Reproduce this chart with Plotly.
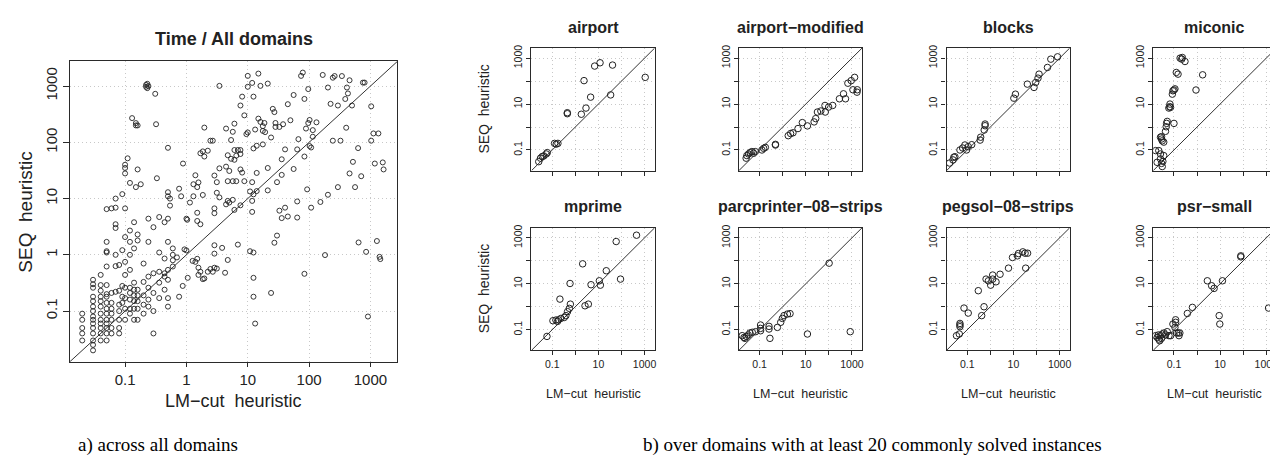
import plotly.graph_objects as go

# ---------------- data: all domains (LM-cut time vs SEQ time) ----------------
lmcut_all = [
    0.02, 0.02, 0.02, 0.02, 0.02,
    0.03, 0.03, 0.03, 0.03, 0.03, 0.03, 0.03, 0.03, 0.03, 0.03, 0.03, 0.03, 0.03, 0.03, 0.03,
    0.04, 0.04, 0.04, 0.04, 0.04, 0.04, 0.04, 0.04, 0.04, 0.04, 0.04, 0.04,
    0.05, 0.05, 0.05, 0.05, 0.05, 0.05, 0.05, 0.05, 0.05, 0.05, 0.05, 0.05, 0.05, 0.05, 0.05, 0.05,
    0.06, 0.06, 0.06, 0.06, 0.06, 0.06, 0.06, 0.06,
    0.07, 0.07, 0.07, 0.07, 0.07, 0.07, 0.07,
    0.08, 0.08, 0.08, 0.08, 0.08, 0.08, 0.08,
    0.09, 0.09, 0.09, 0.09, 0.09,
    0.1, 0.1, 0.1, 0.1, 0.1, 0.1, 0.1, 0.1, 0.1, 0.1, 0.1,
    0.11,
    0.12, 0.12, 0.12, 0.12, 0.12, 0.12, 0.12, 0.12, 0.12, 0.12,
    0.13,
    0.14, 0.14, 0.14, 0.14, 0.14, 0.14, 0.14, 0.14,
    0.15, 0.15, 0.15,
    0.16, 0.16, 0.16, 0.16, 0.16, 0.16, 0.16, 0.16, 0.16,
    0.18,
    0.2, 0.2, 0.2, 0.2, 0.2,
    0.22, 0.22, 0.23, 0.23,
    0.24, 0.24, 0.24, 0.24, 0.24, 0.24, 0.24,
    0.29, 0.29, 0.29, 0.29, 0.29,
    0.31, 0.32, 0.33,
    0.36, 0.36, 0.36, 0.36, 0.36,
    0.44, 0.44, 0.44, 0.44, 0.44,
    0.5, 0.5, 0.5, 0.5, 0.5, 0.5, 0.5, 0.5, 0.5,
    0.54, 0.54, 0.6, 0.6, 0.6, 0.6, 0.7, 0.76, 0.76, 0.82, 0.87, 0.88, 0.93,
    1.0, 1.0, 1.03, 1.05, 1.14, 1.26, 1.3, 1.3, 1.4, 1.4, 1.5, 1.5, 1.5, 1.5,
    1.57, 1.57, 1.57, 1.69, 1.69, 1.69, 1.85, 1.85, 1.85, 1.96, 1.96, 1.96,
    2.23, 2.23, 2.46, 2.46, 2.69, 2.69, 2.86, 2.86, 2.86, 2.86, 2.86, 2.86,
    3.13, 3.13, 3.13, 3.45, 3.45, 3.45, 3.82, 4.27, 4.43, 4.43, 4.43,
    4.72, 4.72, 4.72, 4.72, 5.0, 5.0, 5.35, 5.35, 5.7, 5.7, 5.7,
    6.06, 6.06, 6.06, 6.06, 6.5, 6.5, 6.9, 6.9, 7.6, 7.6, 7.6, 7.6, 7.6,
    8.1, 8.1, 8.8, 8.8, 9.5, 10, 10, 10, 10.9, 10.9,
    11.8, 11.8, 11.8, 11.8, 12.4, 12.4, 12.4, 12.4, 12.4, 12.4,
    13.2, 13.2, 14, 14, 14, 14.9, 14.9, 16.1, 16.1, 17.6, 17.6, 17.6,
    18.7, 19.2, 21.2, 21.2, 21.2, 24, 24, 25.6, 27.2, 27.2, 28.3, 28.3,
    30, 30, 32.8, 32.8, 35.8, 35.8, 35.8, 37.7, 40.6, 40.6, 45, 45, 49.6,
    56, 56, 64, 64, 64, 67, 74, 79, 84, 84, 84, 89, 93, 97, 97,
    102, 102, 108, 108, 115, 115, 132, 153, 167, 182,
    244, 261, 343, 457, 203, 414, 430, 389, 501, 295, 224, 755, 804, 1030,
    403, 244, 325, 1030, 1120, 1350, 630, 519, 1180, 1590, 1640, 457, 708,
    295, 562, 203, 641, 1276, 851, 1410, 1450, 912,
]
seq_all = [
    0.09, 0.07, 0.05, 0.04, 0.03,
    0.36, 0.30, 0.26, 0.18, 0.15, 0.12, 0.10, 0.08, 0.07, 0.06, 0.05, 0.04, 0.03, 0.025, 0.02,
    0.44, 0.29, 0.23, 0.18, 0.15, 0.12, 0.09, 0.07, 0.06, 0.05, 0.04, 0.03,
    6.5, 1.7, 1.16, 1.1, 0.62, 0.29, 0.2, 0.18, 0.14, 0.11, 0.09, 0.07, 0.06, 0.05, 0.04, 0.03,
    6.7, 0.21, 0.14, 0.11, 0.09, 0.07, 0.05, 0.04,
    10, 6.9, 3.5, 3.0, 1.0, 0.63, 0.22,
    0.66, 0.23, 0.13, 0.1, 0.07, 0.05, 0.04,
    12, 1.21, 0.28, 0.18, 0.14,
    40, 35, 28, 6.7, 2.07, 0.75, 0.44, 0.26, 0.17, 0.11, 0.07,
    52,
    19, 2.7, 1.7, 1.0, 0.54, 0.26, 0.21, 0.16, 0.11, 0.09,
    270,
    3.8, 1.3, 0.32, 0.24, 0.19, 0.15, 0.11, 0.07,
    220, 200, 16,
    200, 33, 2.3, 1.8, 0.24, 0.19, 0.15, 0.11, 0.07,
    18,
    0.7, 0.33, 0.19, 0.13, 0.09,
    1050, 970, 1100, 920,
    1000, 4.4, 1.7, 0.41, 0.26, 0.16, 0.12,
    3.1, 0.47, 0.21, 0.1, 0.04,
    730, 210, 23,
    4.7, 1.1, 0.5, 0.32, 0.17,
    3.8, 0.86, 0.47, 0.41, 0.24,
    80, 13, 11, 4.4, 1.7, 0.54, 0.36, 0.17, 0.12,
    7.5, 10, 1.3, 1.0, 0.8, 0.62, 0.9, 15, 0.18, 11, 0.28, 42, 1.25,
    4.4, 1.2, 4.2, 0.39, 8.5, 0.78, 18, 11, 26, 0.75, 16, 5.6, 4.0, 0.85,
    19.4, 0.59, 0.44, 64, 3.5, 0.50, 69, 0.37, 11.6, 183, 56, 0.38,
    71, 0.50, 107, 0.56, 107, 0.5, 25.7, 6.7, 5.5, 1.48, 0.59, 1.05,
    19.6, 12.7, 0.57, 10.5, 34.5, 1010, 1.33, 0.48, 176, 37, 7.9,
    59, 20.4, 9.1, 0.81, 31, 8.5, 110, 51, 154, 9.5, 20.4,
    215, 73, 49, 6.3, 58, 20.4, 73, 1.52, 452, 73, 62, 33, 7.6,
    650, 29, 302, 20.4, 140, 1520, 150, 973, 13.4, 1.16,
    1140, 19.6, 5.8, 9.1, 78, 650, 11.9, 0.39, 0.18, 1.1,
    169, 0.06, 87, 28.6, 13.6, 264, 1670, 1010, 231, 92, 160, 194,
    221, 152, 1110, 35, 14, 122, 0.21, 394, 345, 1.64, 221, 188,
    19.6, 2.2, 188, 6.1, 26.4, 50, 4.5, 210, 6.9, 75, 477, 4.8, 247,
    33.6, 695, 75, 8.9, 4.6, 114, 1520, 1740, 56, 0.46, 592, 176, 14.6, 885, 221,
    250, 86, 6.9, 81, 126, 165, 227, 8.7, 1580, 0.99,
    1410, 1510, 1510, 1270, 944, 944, 741, 590, 452, 452, 484, 1155, 1155, 437,
    182, 107, 107, 107, 144, 144, 79, 45, 42, 44, 33, 28, 25,
    16, 16, 11.7, 1.66, 1.76, 1.13, 0.92, 0.84, 0.08,
]

# ---------------- data: domains with >= 20 commonly solved instances ----------------
airport_lmcut = [0.026, 0.031, 0.037, 0.043, 0.055, 0.061, 0.126, 0.149, 0.176, 0.45, 0.45,
                 1.82, 2.38, 2.9, 4.6, 6.9, 11.8, 34, 41, 1070]
airport_seq = [0.031, 0.044, 0.052, 0.055, 0.067, 0.077, 0.194, 0.18, 0.194, 4.2, 3.8,
               3.6, 105, 6.7, 20, 452, 630, 25, 500, 146]

airport_mod_lmcut = [0.026, 0.028, 0.033, 0.039, 0.046, 0.055, 0.065, 0.126, 0.15, 0.177, 0.485, 0.485,
                     1.74, 2.2, 2.79, 4.6, 7.1, 11.8, 23, 27, 32, 45, 70, 68, 98, 147, 288, 432, 528,
                     668, 935, 1310, 1107, 1710, 1660]
airport_mod_seq = [0.044, 0.057, 0.067, 0.077, 0.085, 0.072, 0.085, 0.1, 0.118, 0.13, 0.176, 0.164,
                   0.42, 0.52, 0.56, 0.86, 1.56, 1.12, 1.67, 2.33, 4.5, 5, 4.5, 8.7, 7.4, 8.7, 17, 28, 17,
                   81, 105, 146, 42, 42, 33]

blocks_lmcut = [0.017, 0.024, 0.026, 0.029, 0.048, 0.063, 0.079, 0.093, 0.11, 0.155, 0.36, 0.38, 0.54,
                0.59, 0.59, 10.4, 12.2, 40, 78, 92, 116, 129, 298, 417, 817]
blocks_seq = [0.027, 0.037, 0.048, 0.051, 0.1, 0.122, 0.165, 0.1, 0.14, 0.17, 0.27, 0.36, 0.74,
              1.14, 1.35, 18, 27, 74, 53, 87, 135, 201, 393, 906, 1143]

miconic_lmcut = [0.016, 0.0185, 0.022, 0.026, 0.026, 0.029, 0.031, 0.033, 0.036, 0.026, 0.029, 0.031,
                 0.036, 0.029, 0.043, 0.046, 0.048, 0.051, 0.1, 0.06, 0.065, 0.071, 0.067, 0.085, 0.09,
                 0.1, 0.11, 0.126, 0.15, 0.184, 0.23, 0.217, 0.30, 0.9, 1.75]
miconic_seq = [0.094, 0.029, 0.094, 0.067, 0.041, 0.026, 0.019, 0.032, 0.057, 0.36, 0.30, 0.25,
               0.22, 0.38, 0.65, 1.03, 1.44, 1.76, 1.44, 6.7, 7.7, 7.2, 10, 27, 38,
               41, 46, 238, 201, 1000, 1070, 905, 716, 41, 188]

mprime_lmcut = [0.059, 0.107, 0.144, 0.17, 0.188, 0.238, 0.33, 0.39, 0.46, 0.55, 0.61, 0.215, 0.59,
                2.08, 2.63, 3.67, 4.8, 11, 12.2, 22, 59, 91, 449]
mprime_seq = [0.051, 0.246, 0.263, 0.23, 0.27, 0.31, 0.34, 0.41, 0.61, 0.85, 1.3, 2.15, 10.3,
              74, 1.1, 1.3, 9.1, 13.5, 8.7, 37, 692, 16, 1306]

parcprinter_lmcut = [0.0176, 0.021, 0.023, 0.027, 0.032, 0.038, 0.048, 0.067, 0.11, 0.11, 0.11, 0.255,
                     0.255, 0.28, 0.59, 0.82, 0.97, 1.14, 1.6, 2.08, 11.8, 103, 847]
parcprinter_seq = [0.055, 0.046, 0.042, 0.051, 0.059, 0.072, 0.077, 0.082, 0.09, 0.16, 0.114, 0.14,
                   0.107, 0.042, 0.126, 0.21, 0.31, 0.41, 0.48, 0.50, 0.065, 79, 0.082]

pegsol_lmcut = [0.034, 0.045, 0.048, 0.048, 0.048, 0.072, 0.11, 0.30, 0.42, 0.53, 0.65, 0.82, 1.03,
                1.26, 1.26, 1.76, 2.63, 6.1, 9.1, 14.9, 16.5, 25.5, 32, 41, 34]
pegsol_seq = [0.055, 0.065, 0.16, 0.188, 0.135, 0.875, 0.53, 5.0, 0.41, 1.0, 16, 13.5, 8.7,
              24, 16, 12.2, 26, 48, 140, 165, 208, 246, 215, 215, 48]

psr_lmcut = [0.016, 0.0188, 0.021, 0.022, 0.024, 0.026, 0.029, 0.031, 0.037, 0.043, 0.051, 0.061,
             0.072, 0.09, 0.11, 0.118, 0.118, 0.13, 0.154, 0.18, 0.165, 0.38, 0.63, 2.8, 4.3, 5.5,
             12.6, 9.1, 9.7, 79, 79, 1260]
psr_seq = [0.055, 0.046, 0.059, 0.039, 0.033, 0.055, 0.042, 0.065, 0.072, 0.059, 0.082, 0.055,
           0.055, 0.176, 0.126, 0.21, 0.27, 0.072, 0.072, 0.072, 0.055, 0.51, 0.94, 13.5, 8.2, 6.3,
           13.5, 0.41, 0.176, 165, 149, 0.875]

panel_names = ["airport", "airport\u2212modified", "blocks", "miconic",
               "mprime", "parcprinter\u221208\u2212strips", "pegsol\u221208\u2212strips", "psr\u2212small"]
panel_data = [(airport_lmcut, airport_seq), (airport_mod_lmcut, airport_mod_seq),
              (blocks_lmcut, blocks_seq), (miconic_lmcut, miconic_seq),
              (mprime_lmcut, mprime_seq), (parcprinter_lmcut, parcprinter_seq),
              (pegsol_lmcut, pegsol_seq), (psr_lmcut, psr_seq)]

tick_vals = [0.1, 1, 10, 100, 1000]
tick_text_all = ["0.1", "1", "10", "100", "1000"]
tick_text_sparse = ["0.1", "", "10", "", "1000"]
tick_text_none = ["", "", "", "", ""]
log_range = [-1.9, 3.44]

# ---------------- layout helpers ----------------
W, H = 1278, 458
SANS = "Liberation Sans, Arial, Helvetica, sans-serif"
SERIF = "Liberation Serif, Times New Roman, serif"
INK = "#222222"

def px_x(p):
    return p / W

def px_y(p):
    return 1 - p / H

def axis_style(domain, ticktext, fontsize, ticklen, anchor, is_y):
    d = dict(
        domain=domain, type="log", range=log_range, anchor=anchor,
        tickmode="array", tickvals=tick_vals, ticktext=ticktext,
        showgrid=True, gridcolor="#c8c8c8", griddash="1px,3px", gridwidth=1,
        showline=True, mirror=True, linecolor="#2a2a2a", linewidth=1.2,
        ticks="outside", ticklen=ticklen, tickwidth=1, tickcolor="#2a2a2a",
        zeroline=False, tickfont=dict(family=SANS, size=fontsize, color=INK),
        fixedrange=True,
    )
    if is_y:
        d["tickangle"] = -90
    return d

fig = go.Figure()
layout = dict(
    width=W, height=H, margin=dict(l=0, r=0, t=0, b=0),
    paper_bgcolor="white", plot_bgcolor="white", showlegend=False,
    font=dict(family=SANS, color=INK),
)
annotations = []

diag = [10 ** log_range[0], 10 ** log_range[1]]

# main panel
layout["xaxis"] = axis_style([px_x(62), px_x(390)], tick_text_all, 15, 4, "y", False)
layout["yaxis"] = axis_style([px_y(353), px_y(50.7)], tick_text_all, 15, 6, "x", True)
fig.add_trace(go.Scatter(x=diag, y=diag, mode="lines", line=dict(color="#333333", width=1),
                         xaxis="x", yaxis="y", hoverinfo="skip"))
fig.add_trace(go.Scatter(x=lmcut_all, y=seq_all, mode="markers", xaxis="x", yaxis="y",
                         marker=dict(symbol="circle-open", size=5, color=INK, line=dict(width=0.9, color=INK))))
annotations.append(dict(text="<b>Time / All domains</b>", x=px_x(226), y=px_y(28), font=dict(size=18)))
annotations.append(dict(text="SEQ\u00a0 heuristic", x=px_x(18), y=px_y(202), textangle=-90, font=dict(size=19)))
annotations.append(dict(text="LM\u2212cut\u00a0 heuristic", x=px_x(226), y=px_y(393), font=dict(size=18)))

# small panels
lefts = [524.3, 732.0, 940.0, 1147.0]
tops = [37.3, 218.2]
side = 123.4
for i, (name, (xs, ys)) in enumerate(zip(panel_names, panel_data)):
    row, col = divmod(i, 4)
    k = i + 2
    xa, ya = f"x{k}", f"y{k}"
    x0 = lefts[col]
    y0 = tops[row]
    layout[f"xaxis{k}"] = axis_style([px_x(x0), px_x(x0 + side)],
                                     tick_text_sparse if row == 1 else tick_text_none, 10.5, 4, ya, False)
    layout[f"yaxis{k}"] = axis_style([px_y(y0 + side), px_y(y0)], tick_text_sparse, 10.5, 4, xa, True)
    fig.add_trace(go.Scatter(x=diag, y=diag, mode="lines", line=dict(color="#333333", width=1),
                             xaxis=xa, yaxis=ya, hoverinfo="skip"))
    fig.add_trace(go.Scatter(x=xs, y=ys, mode="markers", xaxis=xa, yaxis=ya,
                             marker=dict(symbol="circle-open", size=6.5, color=INK,
                                         line=dict(width=1, color=INK))))
    annotations.append(dict(text=f"<b>{name}</b>", x=px_x(x0 + side / 2), y=px_y(y0 - 21), font=dict(size=16)))
    if col == 0:
        annotations.append(dict(text="SEQ\u00a0 heuristic", x=px_x(477), y=px_y(y0 + side / 2),
                                textangle=-90, font=dict(size=14)))
    if row == 1:
        annotations.append(dict(text="LM\u2212cut\u00a0 heuristic", x=px_x(x0 + side / 2), y=px_y(386),
                                font=dict(size=12.5)))

# captions
annotations.append(dict(text="a) across all domains", x=px_x(150), y=px_y(437),
                        font=dict(family=SERIF, size=19, color="black")))
annotations.append(dict(text="b) over domains with at least 20 commonly solved instances",
                        x=px_x(866), y=px_y(437), font=dict(family=SERIF, size=19, color="black")))

for a in annotations:
    a.setdefault("xref", "paper")
    a.setdefault("yref", "paper")
    a.setdefault("showarrow", False)
    a.setdefault("xanchor", "center")
    a.setdefault("yanchor", "middle")
    a["font"].setdefault("family", SANS)
    a["font"].setdefault("color", INK)

layout["annotations"] = annotations
fig.update_layout(**layout)
fig.write_html("out.html")
